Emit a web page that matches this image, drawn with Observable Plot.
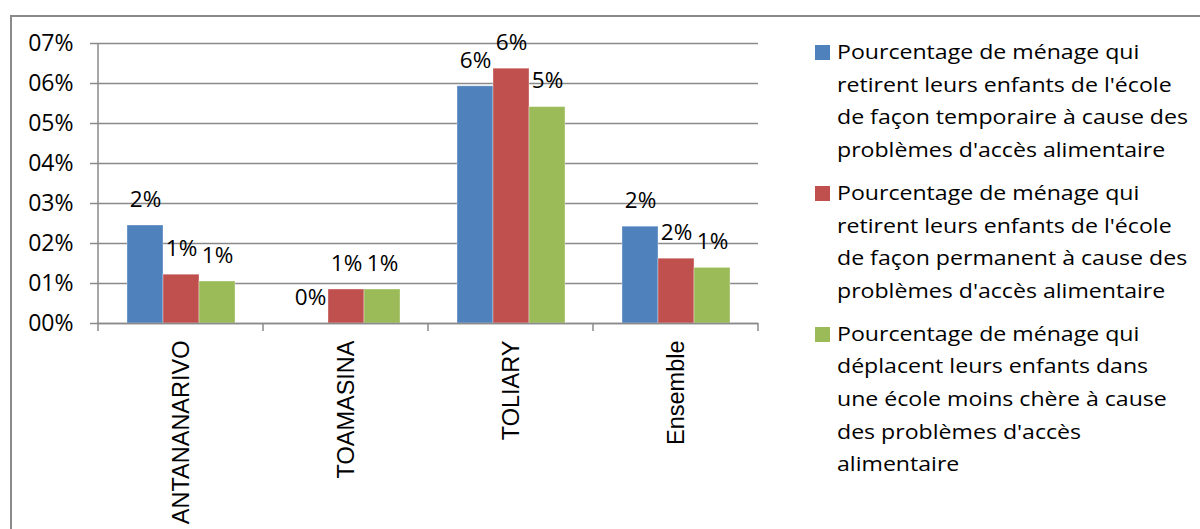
<!DOCTYPE html>
<html>
<head>
<meta charset="utf-8">
<script src="https://cdn.jsdelivr.net/npm/d3@7"></script>
<script src="https://cdn.jsdelivr.net/npm/@observablehq/plot@0.6"></script>
<style>
  html, body { margin: 0; padding: 0; background: #fff; }
  body { width: 1200px; height: 529px; overflow: hidden; position: relative; font-family: "Open Sans", sans-serif; }
  #frame { position: absolute; left: 10px; top: 15px; width: 1300px; height: 700px; border: 2px solid #8a8a8a; box-sizing: border-box; }
  #chart { position: absolute; left: 0; top: 0; }
  #legend { position: absolute; left: 815px; top: 36px; }
  .item { display: flex; align-items: flex-start; margin-bottom: 10px; }
  .sw { width: 15px; height: 15px; margin-top: 9px; margin-right: 7px; flex: none; }
  .lbl { font-size: 20px; line-height: 32.7px; color: #000; white-space: nowrap; transform: scaleX(1.155); transform-origin: 0 0; }
</style>
</head>
<body>
<div id="frame"></div>
<div id="chart"></div>
<div id="legend"></div>
<script>
// ---- data ----
const categories = ["ANTANANARIVO", "TOAMASINA", "TOLIARY", "Ensemble"];
const seriesKeys = ["temporaire", "permanent", "moinsChere"];
const legendLines = [
  ["Pourcentage de ménage qui", "retirent leurs enfants de l'école", "de façon temporaire à cause des", "problèmes d'accès alimentaire"],
  ["Pourcentage de ménage qui", "retirent leurs enfants de l'école", "de façon permanent à cause des", "problèmes d'accès alimentaire"],
  ["Pourcentage de ménage qui", "déplacent leurs enfants dans", "une école moins chère à cause", "des problèmes d'accès", "alimentaire"]
];
const temporaire = [0.0245, 0.0000, 0.0593, 0.0242];
const permanent  = [0.0122, 0.0085, 0.0637, 0.0162];
const moinsChere = [0.0105, 0.0085, 0.0541, 0.0139];
const colors = ["#4F81BD", "#C0504D", "#9BBB59"];
const yTicks = [0, 0.01, 0.02, 0.03, 0.04, 0.05, 0.06, 0.07];
const yTickLabels = ["00%", "01%", "02%", "03%", "04%", "05%", "06%", "07%"];

const seriesValues = {temporaire, permanent, moinsChere};
const data = [];
categories.forEach((c, i) => {
  seriesKeys.forEach(s => data.push({cat: c, series: s, value: seriesValues[s][i]}));
});

const gridColor = "#8a8a8a";

const plot = Plot.plot({
  width: 770,
  height: 529,
  marginLeft: 98,
  marginRight: 12,
  marginTop: 43,
  marginBottom: 206,
  style: {fontFamily: "'Open Sans', sans-serif", fontSize: "22px", color: "#000", background: "transparent", overflow: "visible"},
  fx: {domain: categories, padding: 0, label: null},
  x: {domain: seriesKeys, paddingInner: 0, paddingOuter: 0.75, axis: null},
  y: {domain: [0, 0.07], axis: null},
  color: {domain: seriesKeys, range: colors},
  marks: [
    Plot.gridY(yTicks, {stroke: gridColor, strokeOpacity: 1, strokeWidth: 1.5}),
    Plot.axisY({ticks: yTicks, tickFormat: (d, i) => yTickLabels[i], tickSize: 8, tickPadding: 17,
                stroke: gridColor, strokeWidth: 1.5, label: null, fontSize: 23}),
    Plot.barY(data, {fx: "cat", x: "series", y: "value", fill: "series", stroke: "#fff", strokeOpacity: 0.35, strokeWidth: 1}),
    Plot.text(data, {fx: "cat", x: "series", y: "value", text: d => Math.round(d.value * 100) + "%", dy: -26, fontSize: 22.5, fill: "#000"}),
    Plot.ruleY([0], {stroke: gridColor, strokeWidth: 1.5}),
    Plot.axisFx({anchor: "bottom", tickRotate: -90, tickSize: 0, tickPadding: 17, label: null, fontSize: 23.5,
                 fontFamily: "'Liberation Sans', Arial, sans-serif"})
  ]
});
document.getElementById("chart").appendChild(plot);

// y-axis line and category separator ticks from the library's scales
const fx = plot.scale("fx");
const y = plot.scale("y");
const svg = d3.select(plot);
const y0 = y.apply(0), yTop = y.apply(0.07);
const bw = fx.bandwidth;
const g = svg.append("g").attr("stroke", gridColor).attr("stroke-width", 1.5);
const first = fx.apply(categories[0]);
g.append("line").attr("x1", first).attr("x2", first).attr("y1", yTop).attr("y2", y0 + 8);
categories.forEach(c => {
  const xe = fx.apply(c) + bw;
  g.append("line").attr("x1", xe).attr("x2", xe).attr("y1", y0).attr("y2", y0 + 8);
});

// legend
const legend = d3.select("#legend");
legendLines.forEach((lines, i) => {
  const it = legend.append("div").attr("class", "item");
  it.append("div").attr("class", "sw").style("background", colors[i]);
  it.append("div").attr("class", "lbl").html(lines.map(l => l.replace(/&/g, "&amp;").replace(/</g, "&lt;")).join("<br>"));
});
</script>
</body>
</html>
